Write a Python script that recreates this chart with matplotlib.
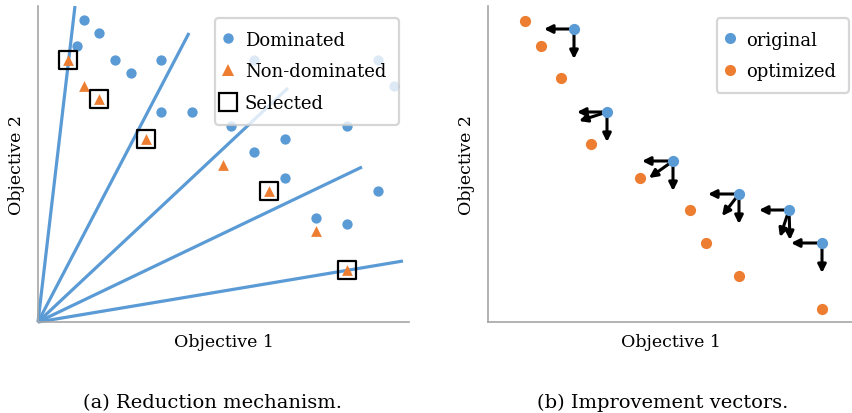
import numpy as np
import matplotlib
matplotlib.use('Agg')
import matplotlib.pyplot as plt
from matplotlib.lines import Line2D

plt.rcParams['font.family'] = ['DejaVu Serif']

BLUE = '#5B9BD5'
ORANGE = '#ED7D31'
SPINE = '#A6A6A6'

# (a) reduction mechanism
dom_x = [46, 61, 39, 77, 93, 123, 123, 154, 193, 216, 340, 356, 309, 247, 216, 247, 340, 278, 309]
dom_y = [302, 289, 276, 262, 249, 262, 210, 210, 196, 262, 262, 236, 196, 183, 170, 144, 131, 104, 98]
nd_x = [30, 46, 61, 108, 185, 231, 278, 309]
nd_y = [262, 236, 223, 183, 157, 131, 91, 52]
selected = [0, 2, 3, 5, 7]
ray_x = [37, 151, 250, 324, 365]
ray_y = [316, 289, 234, 155, 61]

# (b) improvement vectors
orig_x = [86, 119, 185, 251, 301, 334]
orig_y = [293, 210, 161, 128, 112, 79]
opt_x = [37, 53, 73, 103, 152, 202, 218, 251, 334]
opt_y = [301, 276, 244, 178, 144, 112, 79, 46, 13]
vec_from = [0, 0, 1, 1, 1, 2, 2, 2, 3, 3, 3, 4, 4, 4, 5, 5]
vec_dx = [-30, 0, -30, -28, 0, -31, -24, 0, -31, -17, 0, -30, -9, 1, -31, 0]
vec_dy = [0, -30, 0, -9, -30, 0, -17, -30, 0, -22, -30, 0, -27, -30, 0, -30]


def style_axes(ax):
    for side in ['top', 'right']:
        ax.spines[side].set_visible(False)
    for side in ['left', 'bottom']:
        ax.spines[side].set_color(SPINE)
        ax.spines[side].set_linewidth(1.2)
    ax.set_xticks([])
    ax.set_yticks([])
    ax.set_xlabel('Objective 1', fontsize=12.5, labelpad=8)
    ax.set_ylabel('Objective 2', fontsize=12.5, labelpad=9)


def add_legend(ax, handles, labels, anchor):
    leg = ax.legend(handles, labels, loc='upper right', bbox_to_anchor=anchor,
                    borderaxespad=0, fontsize=13, framealpha=0.8,
                    edgecolor='#CCCCCC', handlelength=0.05, handletextpad=0.9,
                    labelspacing=0.76, borderpad=0.7)
    leg.get_frame().set_linewidth(1.6)
    return leg


fig = plt.figure(figsize=(8.53, 4.14), dpi=100)
ax1 = fig.add_axes([38 / 853, 91 / 414, 371 / 853, 316 / 414])
ax2 = fig.add_axes([488 / 853, 91 / 414, 365 / 853, 316 / 414])

# rays from the origin
for rx, ry in zip(ray_x, ray_y):
    ax1.plot([0, rx], [0, ry], color=BLUE, lw=2.3, zorder=1, clip_on=False,
             solid_capstyle='butt')
ax1.scatter(dom_x, dom_y, s=55, color=BLUE, zorder=2, linewidths=0)
ax1.scatter(nd_x, nd_y, s=60, marker='^', color=ORANGE, zorder=3, linewidths=0)
ax1.scatter(np.array(nd_x)[selected], np.array(nd_y)[selected], s=160, marker='s',
            facecolors='none', edgecolors='black', linewidths=1.6, zorder=4)
ax1.set_xlim(0, 371)
ax1.set_ylim(0, 316)
style_axes(ax1)

h1 = [Line2D([], [], ls='', marker='o', ms=7.5, color=BLUE, mew=0),
      Line2D([], [], ls='', marker='^', ms=8, color=ORANGE, mew=0),
      Line2D([], [], ls='', marker='s', ms=12.5, mfc='none', mec='black', mew=1.6)]
add_legend(ax1, h1, ['Dominated', 'Non-dominated', 'Selected'], (361 / 371, 0.962))

# improvement vectors
for i, dx, dy in zip(vec_from, vec_dx, vec_dy):
    x0, y0 = orig_x[i], orig_y[i]
    ax2.annotate('', xy=(x0 + dx, y0 + dy), xytext=(x0, y0),
                 arrowprops=dict(arrowstyle='-|>', color='black', lw=2.2,
                                 mutation_scale=12, shrinkA=0, shrinkB=0),
                 zorder=2)
ax2.scatter(orig_x, orig_y, s=65, color=BLUE, zorder=3, linewidths=0)
ax2.scatter(opt_x, opt_y, s=65, color=ORANGE, zorder=3, linewidths=0)
ax2.set_xlim(0, 365)
ax2.set_ylim(0, 316)
style_axes(ax2)

h2 = [Line2D([], [], ls='', marker='o', ms=8, color=BLUE, mew=0),
      Line2D([], [], ls='', marker='o', ms=8, color=ORANGE, mew=0)]
add_legend(ax2, h2, ['original', 'optimized'], (361 / 365, 0.962))

fig.text(213 / 853, 1 - 403 / 414, '(a) Reduction mechanism.', ha='center', va='center', fontsize=14)
fig.text(663 / 853, 1 - 403 / 414, '(b) Improvement vectors.', ha='center', va='center', fontsize=14)

fig.savefig('out.png', dpi=100)
